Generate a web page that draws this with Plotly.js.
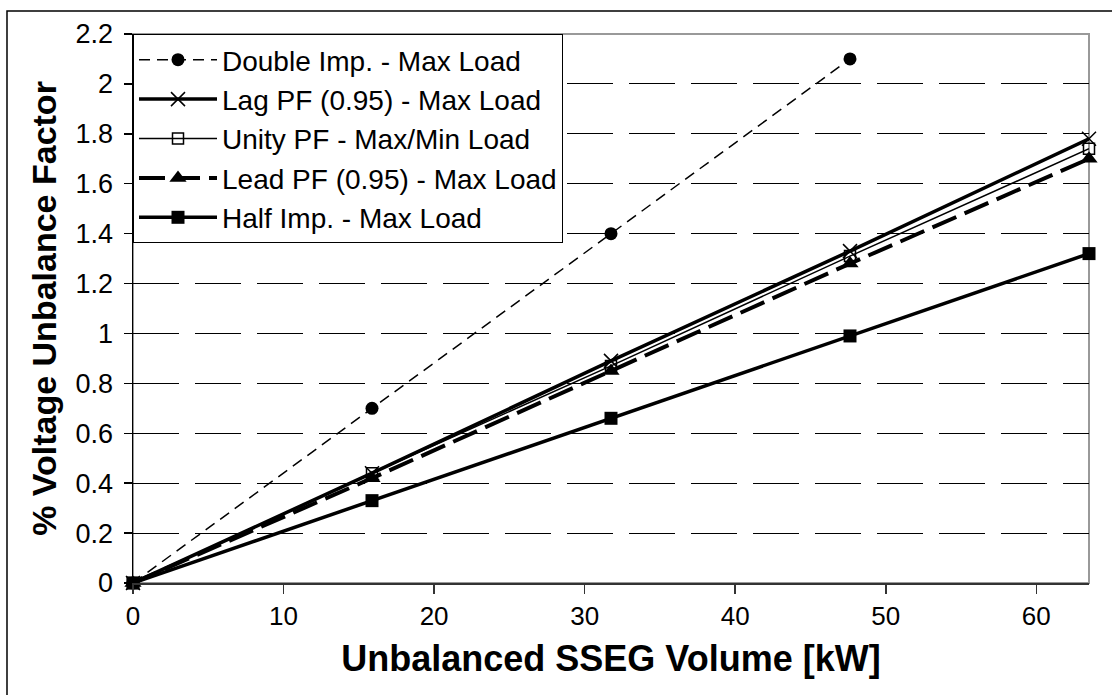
<!DOCTYPE html>
<html>
<head>
<meta charset="utf-8">
<script src="https://cdn.plot.ly/plotly-3.0.1.min.js"></script>
<style>html,body{margin:0;padding:0;background:#fff;}#chart{width:1112px;height:695px;}</style>
</head>
<body>
<div id="chart"></div>
<script>
// Data
const xVolume = [0, 15.875, 31.75, 47.625, 63.5];
const seriesNames = [
  "Double Imp. - Max Load",
  "Lag PF (0.95) - Max Load",
  "Unity PF - Max/Min Load",
  "Lead PF (0.95) - Max Load",
  "Half Imp. - Max Load"
];
const doubleImp = [0, 0.70, 1.40, 2.10];
const lagPF = [0, 0.44, 0.89, 1.33, 1.78];
const unityPF = [0, 0.44, 0.87, 1.31, 1.74];
const leadPF = [0, 0.42, 0.85, 1.28, 1.70];
const halfImp = [0, 0.33, 0.66, 0.99, 1.32];
const xTicks = [0, 10, 20, 30, 40, 50, 60];
const yTicks = [0, 0.2, 0.4, 0.6, 0.8, 1, 1.2, 1.4, 1.6, 1.8, 2, 2.2];

const FONT = "Liberation Sans, Arial, sans-serif";

const traces = [
  {x: xVolume.slice(0, doubleImp.length), y: doubleImp, name: seriesNames[0], mode: "lines+markers",
   line: {color: "#000", width: 1.5, dash: "11px,7px"},
   marker: {symbol: "circle", size: 13, color: "#000"}},
  {x: xVolume, y: lagPF, name: seriesNames[1], mode: "lines+markers",
   line: {color: "#000", width: 3.5},
   marker: {symbol: "x-thin-open", size: 14, color: "#000", line: {width: 1.5, color: "#000"}}},
  {x: xVolume, y: unityPF, name: seriesNames[2], mode: "lines+markers",
   line: {color: "#000", width: 1.5},
   marker: {symbol: "square-open", size: 11, color: "#000", line: {width: 1.5, color: "#000"}}},
  {x: xVolume, y: leadPF, name: seriesNames[3], mode: "lines+markers",
   line: {color: "#000", width: 4, dash: "26px,9px"},
   marker: {symbol: "triangle-up", size: 15, color: "#000"}},
  {x: xVolume, y: halfImp, name: seriesNames[4], mode: "lines+markers",
   line: {color: "#000", width: 3.5},
   marker: {symbol: "square", size: 13, color: "#000"}}
];
traces.forEach(t => { t.cliponaxis = false; });

const layout = {
  width: 1112, height: 695,
  margin: {l: 133, r: 23, t: 34, b: 112},
  paper_bgcolor: "#fff", plot_bgcolor: "#fff",
  font: {family: FONT, color: "#000"},
  showlegend: true,
  legend: {
    x: 0, y: 1, xanchor: "left", yanchor: "top",
    bgcolor: "#fff", bordercolor: "#000", borderwidth: 1,
    font: {family: FONT, size: 28, color: "#000"},
    itemwidth: 78, tracegroupgap: 0
  },
  xaxis: {
    range: [0, 63.5], tickvals: xTicks, ticktext: xTicks.map(String),
    ticks: "outside", ticklen: 9, tickwidth: 1.5, tickcolor: "#333",
    showline: true, linecolor: "#333", linewidth: 2,
    showgrid: false, zeroline: false,
    tickfont: {family: FONT, size: 26, color: "#000"},
    title: {text: "Unbalanced SSEG Volume [kW]", font: {family: FONT, size: 36, color: "#000", weight: "bold"}, standoff: 16}
  },
  yaxis: {
    range: [0, 2.2], tickvals: yTicks, ticktext: yTicks.map(String),
    ticks: "outside", ticklen: 8, tickwidth: 1.5, tickcolor: "#000",
    showline: true, linecolor: "#000", linewidth: 1.5,
    showgrid: true, gridcolor: "#000", gridwidth: 1, griddash: "46px,16px",
    zeroline: false, ticklabelstandoff: 5,
    tickfont: {family: FONT, size: 27, color: "#000"},
    title: {text: "% Voltage Unbalance Factor", font: {family: FONT, size: 34, color: "#000", weight: "bold"}, standoff: 8}
  },
  shapes: [
    {type: "rect", xref: "paper", yref: "paper", x0: 0, x1: 1, y0: 0, y1: 1,
     line: {color: "#999", width: 2}, layer: "below"},
    {type: "rect", xref: "paper", yref: "paper", x0: -0.1318, x1: 1.06, y0: -0.22, y1: 1.0419,
     line: {color: "#000", width: 1.5}, fillcolor: "rgba(0,0,0,0)", layer: "above"}
  ]
};

Plotly.newPlot("chart", traces, layout, {displayModeBar: false, staticPlot: true});
</script>
</body>
</html>
